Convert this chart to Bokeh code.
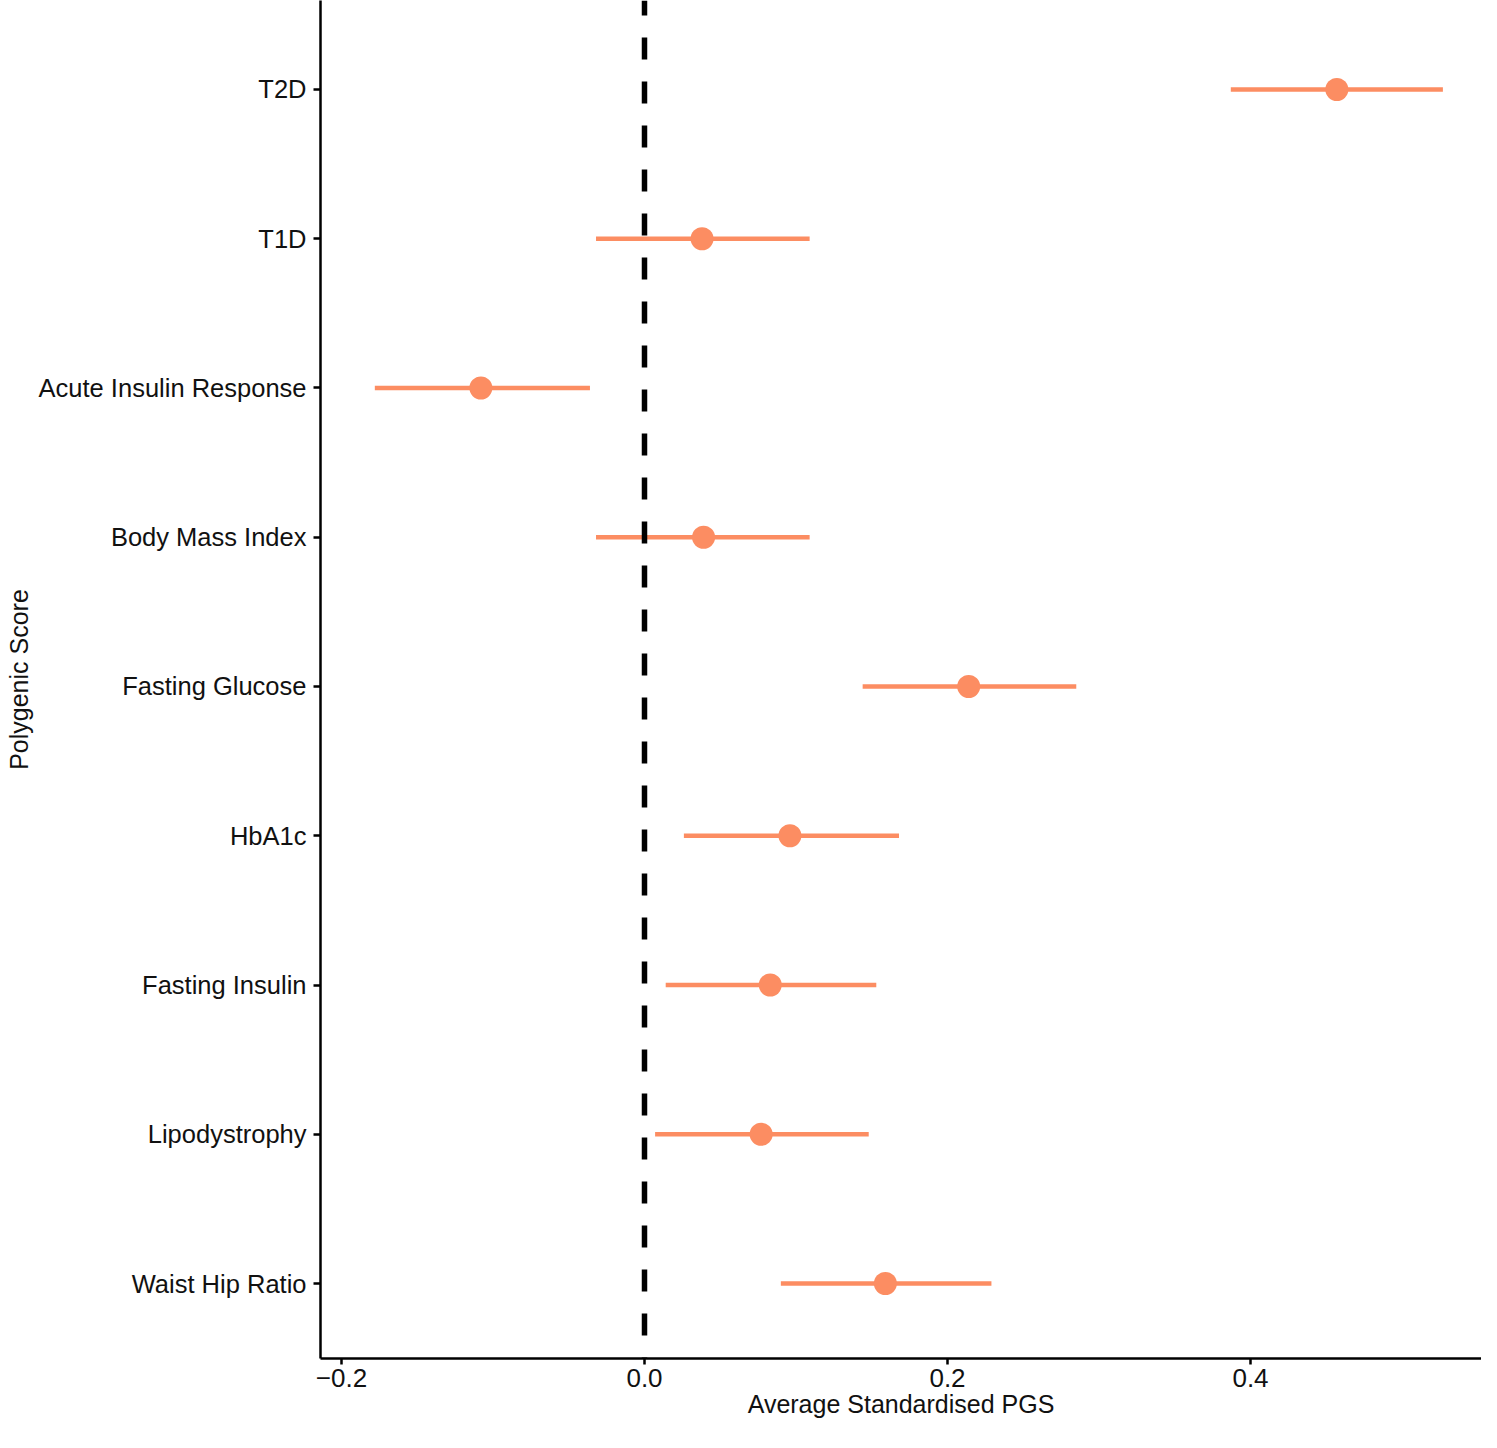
from bokeh.models import ColumnDataSource, Range1d, FixedTicker, Span
from bokeh.plotting import figure
from bokeh.embed import file_html
from bokeh.resources import INLINE

# polygenic scores, bottom to top
scores = ['Waist Hip Ratio', 'Lipodystrophy', 'Fasting Insulin', 'HbA1c',
          'Fasting Glucose', 'Body Mass Index', 'Acute Insulin Response',
          'T1D', 'T2D']
means = [0.159, 0.077, 0.083, 0.096, 0.214, 0.039, -0.108, 0.038, 0.457]
lower = [0.090, 0.007, 0.014, 0.026, 0.144, -0.032, -0.178, -0.032, 0.387]
upper = [0.229, 0.148, 0.153, 0.168, 0.285, 0.109, -0.036, 0.109, 0.527]
x_ticks = [-0.2, 0.0, 0.2, 0.4]
x_tick_labels = {-0.2: '\u22120.2', 0.0: '0.0', 0.2: '0.2', 0.4: '0.4'}

pos = list(range(1, len(scores) + 1))
source = ColumnDataSource(data=dict(score=scores, pos=pos, mean=means,
                                    lower=lower, upper=upper))

FONT = "Liberation Sans"
ORANGE = "#FC8D62"

p = figure(width=1481, height=1432, output_backend="svg", toolbar_location=None,
           tools="", x_range=Range1d(-0.21386, 0.55248),
           y_range=Range1d(0.4975, 9.5963),
           min_border_left=320, min_border_right=0, min_border_top=0,
           min_border_bottom=74)

p.segment(x0='lower', x1='upper', y0='pos', y1='pos', source=source,
          line_color=ORANGE, line_width=4.5)
p.scatter(x='mean', y='pos', source=source, size=23, fill_color=ORANGE,
          line_color=None)

zero = Span(location=0, dimension='height', line_color="black", line_width=5.5,
            line_dash="22 22", line_dash_offset=7)
p.add_layout(zero)

p.outline_line_color = None
p.grid.grid_line_color = None
p.background_fill_color = "white"
p.border_fill_color = "white"

p.yaxis.ticker = FixedTicker(ticks=pos)
p.yaxis.major_label_overrides = {i: s for i, s in zip(pos, scores)}
p.xaxis.ticker = FixedTicker(ticks=x_ticks)
p.xaxis.major_label_overrides = x_tick_labels

for ax in (p.xaxis, p.yaxis):
    ax.axis_line_color = "black"
    ax.axis_line_width = 2.5
    ax.major_tick_line_color = "black"
    ax.major_tick_line_width = 2.5
    ax.major_tick_in = 0
    ax.minor_tick_line_color = None
    ax.major_label_text_font = FONT
    ax.major_label_text_color = "#111111"
    ax.axis_label_text_font = FONT
    ax.axis_label_text_font_style = "normal"
    ax.axis_label_text_font_size = "25px"
    ax.axis_label_text_color = "#111111"

p.xaxis.axis_label = "Average Standardised PGS"
p.xaxis.major_tick_out = 6
p.xaxis.major_label_text_font_size = "26px"
p.xaxis.major_label_standoff = 4
p.xaxis.axis_label_standoff = 0

p.yaxis.axis_label = "Polygenic Score"
p.yaxis.major_tick_out = 7
p.yaxis.major_label_text_font_size = "25.5px"
p.yaxis.major_label_standoff = 7
p.yaxis.axis_label_standoff = 3

open("out.html", "w").write(file_html(p, INLINE))
